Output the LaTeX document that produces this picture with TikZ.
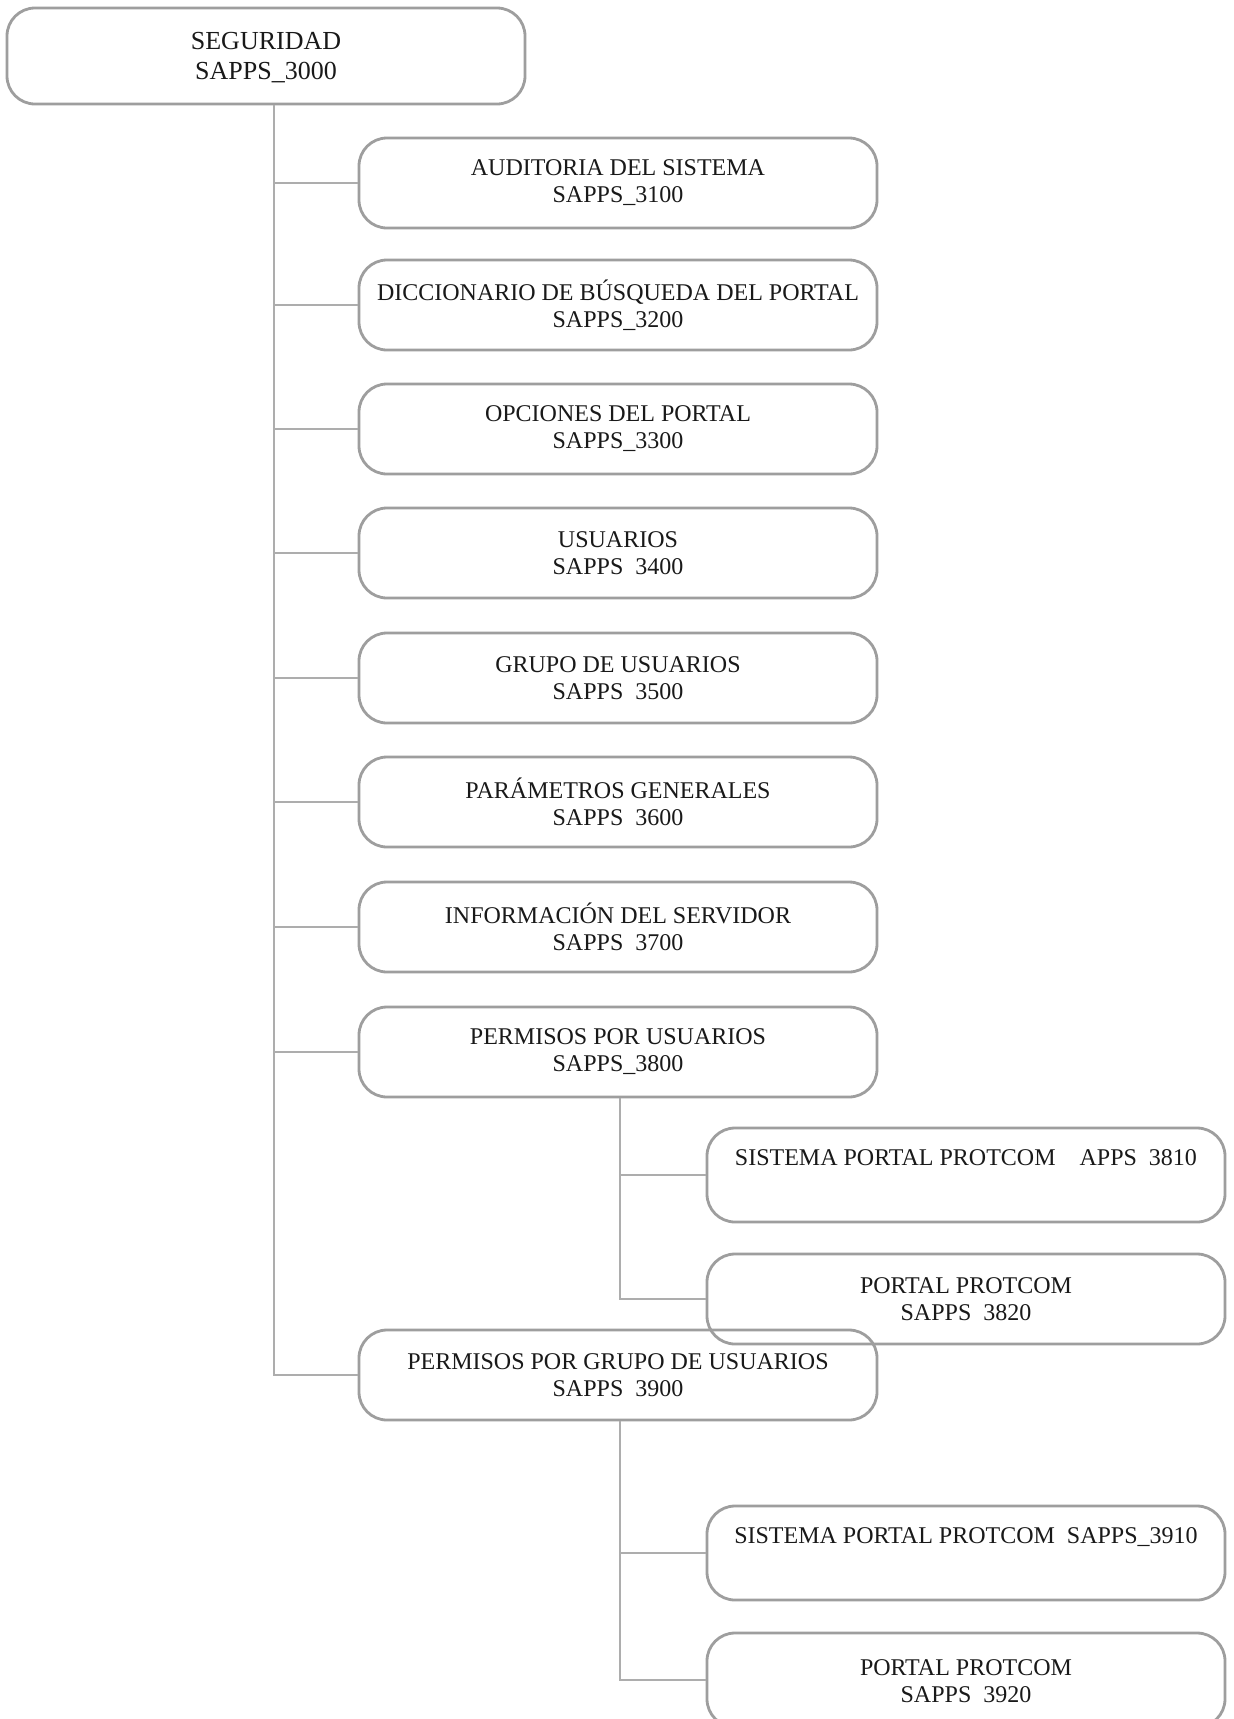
\documentclass[tikz,border=0pt]{standalone}
\usepackage{fontspec}
\setmainfont{Liberation Serif}
\begin{document}
\begin{tikzpicture}[x=0.5pt,y=-0.5pt,
  box/.style={draw=black!38, line width=1.4pt, rounded corners=14pt,
    minimum width=259pt, minimum height=45pt, align=center, inner sep=0pt,
    font=\fontsize{12}{13.5}\selectfont, text=black!90},
  link/.style={draw=black!32, line width=0.6pt}]
\useasboundingbox (0,0) rectangle (1233,1719);
\fill[white] (0,0) rectangle (1233,1719);
\node[box, minimum height=48pt, font=\fontsize{13}{15}\selectfont] (root) at (266,56) {\strut SEGURIDAD\\SAPPS\_3000};
\node[box] (c1) at (618,183) {AUDITORIA DEL SISTEMA\\SAPPS\_3100};
\node[box] (c2) at (618,305) {DICCIONARIO DE BÚSQUEDA DEL PORTAL\\SAPPS\_3200};
\node[box] (c3) at (618,429) {OPCIONES DEL PORTAL\\SAPPS\_3300};
\node[box] (c4) at (618,553) {USUARIOS\\SAPPS\hspace{0.5em}3400};
\node[box] (c5) at (618,678) {GRUPO DE USUARIOS\\SAPPS\hspace{0.5em}3500};
\node[box] (c6) at (618,802) {PARÁMETROS GENERALES\\SAPPS\hspace{0.5em}3600};
\node[box] (c7) at (618,927) {INFORMACIÓN DEL SERVIDOR\\SAPPS\hspace{0.5em}3700};
\node[box] (c8) at (618,1052) {PERMISOS POR USUARIOS\\SAPPS\_3800};
\node[box] (c9) at (618,1375) {PERMISOS POR GRUPO DE USUARIOS\\SAPPS\hspace{0.5em}3900};
\node[box, minimum height=47pt] (s1) at (966,1175) {SISTEMA PORTAL PROTCOM\hspace{1em}APPS\hspace{0.5em}3810\\ \strut};
\node[box] (s2) at (966,1299) {PORTAL PROTCOM\\SAPPS\hspace{0.5em}3820};
\node[box, minimum height=47pt] (s3) at (966,1553) {SISTEMA PORTAL PROTCOM\hspace{0.5em}SAPPS\_3910\\ \strut};
\node[box, minimum height=47pt] (s4) at (966,1680) {\strut PORTAL PROTCOM\\SAPPS\hspace{0.5em}3920};
\coordinate (rt) at (274,0);
\coordinate (st) at (620,0);
\draw[link] (root.south -| rt) -- (rt |- c9.west) -- (c9.west);
\foreach \c in {c1,c2,c3,c4,c5,c6,c7,c8}
  \draw[link] (rt |- \c.west) -- (\c.west);
\draw[link] (c8.south -| st) -- (st |- s2.west) -- (s2.west);
\draw[link] (st |- s1.west) -- (s1.west);
\draw[link] (c9.south -| st) -- (st |- s4.west) -- (s4.west);
\draw[link] (st |- s3.west) -- (s3.west);
\end{tikzpicture}
\end{document}
